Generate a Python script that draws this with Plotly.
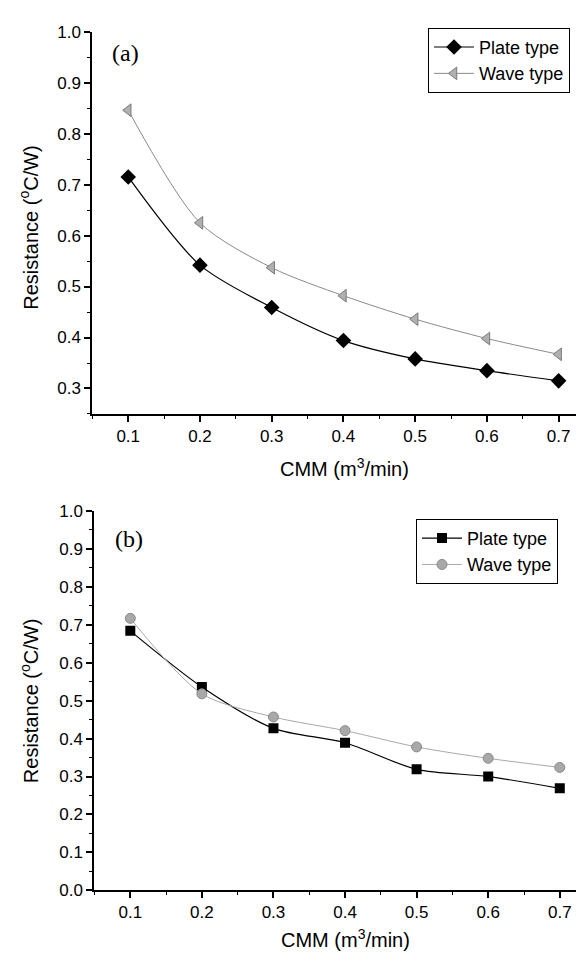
import plotly.graph_objects as go

# ---------------- data ----------------
cmm = [0.1, 0.2, 0.3, 0.4, 0.5, 0.6, 0.7]

a_plate = [0.715, 0.542, 0.459, 0.394, 0.358, 0.335, 0.315]
a_wave = [0.846, 0.625, 0.537, 0.482, 0.436, 0.398, 0.367]

b_plate = [0.684, 0.536, 0.427, 0.389, 0.319, 0.300, 0.269]
b_wave = [0.717, 0.518, 0.457, 0.421, 0.378, 0.348, 0.324]

series_names = ["Plate type", "Wave type"]
panel_labels = ["(a)", "(b)"]
x_title = "CMM (m<sup>3</sup>/min)"
y_title = "Resistance (<sup>o</sup>C/W)"

# ---------------- figure ----------------
W, H = 584, 958
SANS = "Liberation Sans, Arial, sans-serif"
SERIF = "Liberation Serif, Times New Roman, serif"

fig = go.Figure()

# panel (a)
fig.add_trace(go.Scatter(
    x=cmm, y=a_plate, name=series_names[0], mode="lines+markers",
    line=dict(color="black", width=1.2, shape="spline", smoothing=0.8),
    marker=dict(symbol="diamond", size=12, color="black"),
    xaxis="x", yaxis="y", legend="legend"))
fig.add_trace(go.Scatter(
    x=cmm, y=a_wave, name=series_names[1], mode="lines+markers",
    line=dict(color="#8a8a8a", width=1, shape="spline", smoothing=0.8),
    marker=dict(symbol="triangle-left", size=11, color="#b0b0b0",
                line=dict(color="#7a7a7a", width=1)),
    xaxis="x", yaxis="y", legend="legend"))

# panel (b)
fig.add_trace(go.Scatter(
    x=cmm, y=b_plate, name=series_names[0], mode="lines+markers",
    line=dict(color="black", width=1.2, shape="spline", smoothing=0.8),
    marker=dict(symbol="square", size=10, color="black"),
    xaxis="x2", yaxis="y2", legend="legend2"))
fig.add_trace(go.Scatter(
    x=cmm, y=b_wave, name=series_names[1], mode="lines+markers",
    line=dict(color="#a8a8a8", width=1, shape="spline", smoothing=0.8),
    marker=dict(symbol="circle", size=10, color="#a8a8a8",
                line=dict(color="#8a8a8a", width=1)),
    xaxis="x2", yaxis="y2", legend="legend2"))


def px_x(p):
    return p / W


def px_y(p):
    return 1 - p / H


axis_common = dict(
    showline=True, linecolor="black", linewidth=1.5, mirror=False,
    showgrid=False, zeroline=False,
    ticks="outside", ticklen=6, tickwidth=1.5, tickcolor="black",
    tickfont=dict(family=SANS, size=17, color="black"),
    dtick=0.1, tickformat=".1f",
    minor=dict(ticks="outside", ticklen=3, tickwidth=1.2, tickcolor="black", dtick=0.05),
)

legend_common = dict(
    xanchor="left", yanchor="top",
    bgcolor="white", bordercolor="black", borderwidth=1,
    font=dict(family=SANS, size=18, color="black"),
    tracegroupgap=0, itemsizing="trace", itemwidth=40,
)

fig.update_layout(
    width=W, height=H,
    margin=dict(l=0, r=0, t=0, b=0),
    paper_bgcolor="white", plot_bgcolor="white",
    showlegend=True,
    xaxis=dict(axis_common, domain=[px_x(84), 1], range=[0.0495, 0.7465],
               tick0=0.1, anchor="y"),
    yaxis=dict(axis_common, domain=[px_y(405), px_y(15)], range=[0.25, 1.0],
               tick0=0.0, anchor="x"),
    xaxis2=dict(axis_common, domain=[px_x(86), 1], range=[0.0493, 0.745],
                tick0=0.1, anchor="y2"),
    yaxis2=dict(axis_common, domain=[px_y(891), px_y(504)], range=[0.0, 1.0],
                tick0=0.0, anchor="x2"),
    legend=dict(legend_common, x=px_x(420), y=px_y(11)),
    legend2=dict(legend_common, x=px_x(408), y=px_y(512)),
)

annotations = [
    dict(text=panel_labels[0], x=px_x(102), y=px_y(37), xref="paper", yref="paper",
         xanchor="left", yanchor="middle", showarrow=False,
         font=dict(family=SERIF, size=24, color="black")),
    dict(text=panel_labels[1], x=px_x(105), y=px_y(533), xref="paper", yref="paper",
         xanchor="left", yanchor="middle", showarrow=False,
         font=dict(family=SERIF, size=24, color="black")),
    dict(text=x_title, x=px_x(336), y=px_y(460), xref="paper", yref="paper",
         xanchor="center", yanchor="middle", showarrow=False,
         font=dict(family=SANS, size=20, color="black")),
    dict(text=x_title, x=px_x(337), y=px_y(940), xref="paper", yref="paper",
         xanchor="center", yanchor="middle", showarrow=False,
         font=dict(family=SANS, size=20, color="black")),
    dict(text=y_title, x=px_x(21), y=px_y(215), xref="paper", yref="paper",
         xanchor="center", yanchor="middle", showarrow=False, textangle=-90,
         font=dict(family=SANS, size=20, color="black")),
    dict(text=y_title, x=px_x(21), y=px_y(698), xref="paper", yref="paper",
         xanchor="center", yanchor="middle", showarrow=False, textangle=-90,
         font=dict(family=SANS, size=20, color="black")),
]
fig.update_layout(annotations=annotations)

fig.write_html("out.html")
